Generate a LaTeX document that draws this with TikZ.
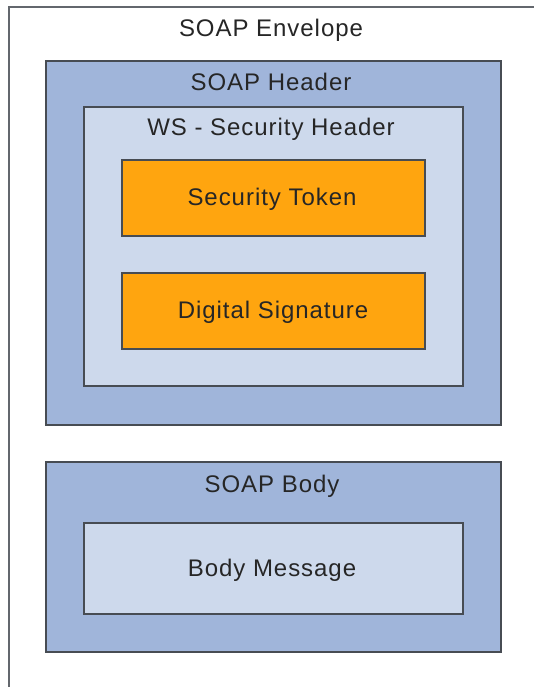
\documentclass[tikz,border=0pt]{standalone}
\usepackage{fontspec}
\setmainfont[LetterSpace=4]{Liberation Sans}
\definecolor{midblue}{HTML}{A0B5DA}
\definecolor{lightblue}{HTML}{CDD9EC}
\definecolor{orangefill}{HTML}{FFA50F}
\definecolor{txt}{HTML}{262626}
\definecolor{edge}{HTML}{474C53}
\begin{document}
\begin{tikzpicture}[x=1pt,y=-1pt,
  box/.style={draw=edge, line width=2.4pt, rectangle, inner sep=0pt},
  outerbox/.style={box, fill=midblue},
  innerbox/.style={box, fill=lightblue},
  tokenbox/.style={box, fill=orangefill},
  lbl/.style={text=txt, font=\fontsize{24}{28}\selectfont, inner sep=0pt}]
\fill[white] (0,0) rectangle (534,687);
\clip (0,0) rectangle (534,687);
\useasboundingbox (0,0) rectangle (534,687);
% envelope
\coordinate (envbl) at (9,700);
\coordinate (envtr) at (560,7);
\draw[draw=edge!85, line width=2.4pt] (envbl) |- (envtr);
\node[lbl] (envlbl) at (271,30) {SOAP Envelope};
% header
\node[outerbox, minimum width=455pt, minimum height=364pt] (header) at (273.5,243) {};
\node[lbl] (headerlbl) at (271,82) {SOAP Header};
\node[innerbox, minimum width=379pt, minimum height=279pt] (ws) at (273.5,246.5) {};
\node[lbl] (wslbl) at (271,129) {WS - Security Header};
\node[tokenbox, minimum width=303pt, minimum height=76pt] (token) at (273.5,198) {};
\node[lbl] (tokenlbl) at (272,199) {Security Token};
\node[tokenbox, minimum width=303pt, minimum height=76pt] (sig) at (273.5,311) {};
\node[lbl] (siglbl) at (273,312) {Digital Signature};
% body
\node[outerbox, minimum width=455pt, minimum height=190pt] (body) at (273.5,557) {};
\node[lbl] (bodylbl) at (272,486) {SOAP Body};
\node[innerbox, minimum width=379pt, minimum height=91pt] (msg) at (273.5,568.5) {};
\node[lbl] (msglbl) at (272,570) {Body Message};
\end{tikzpicture}
\end{document}
